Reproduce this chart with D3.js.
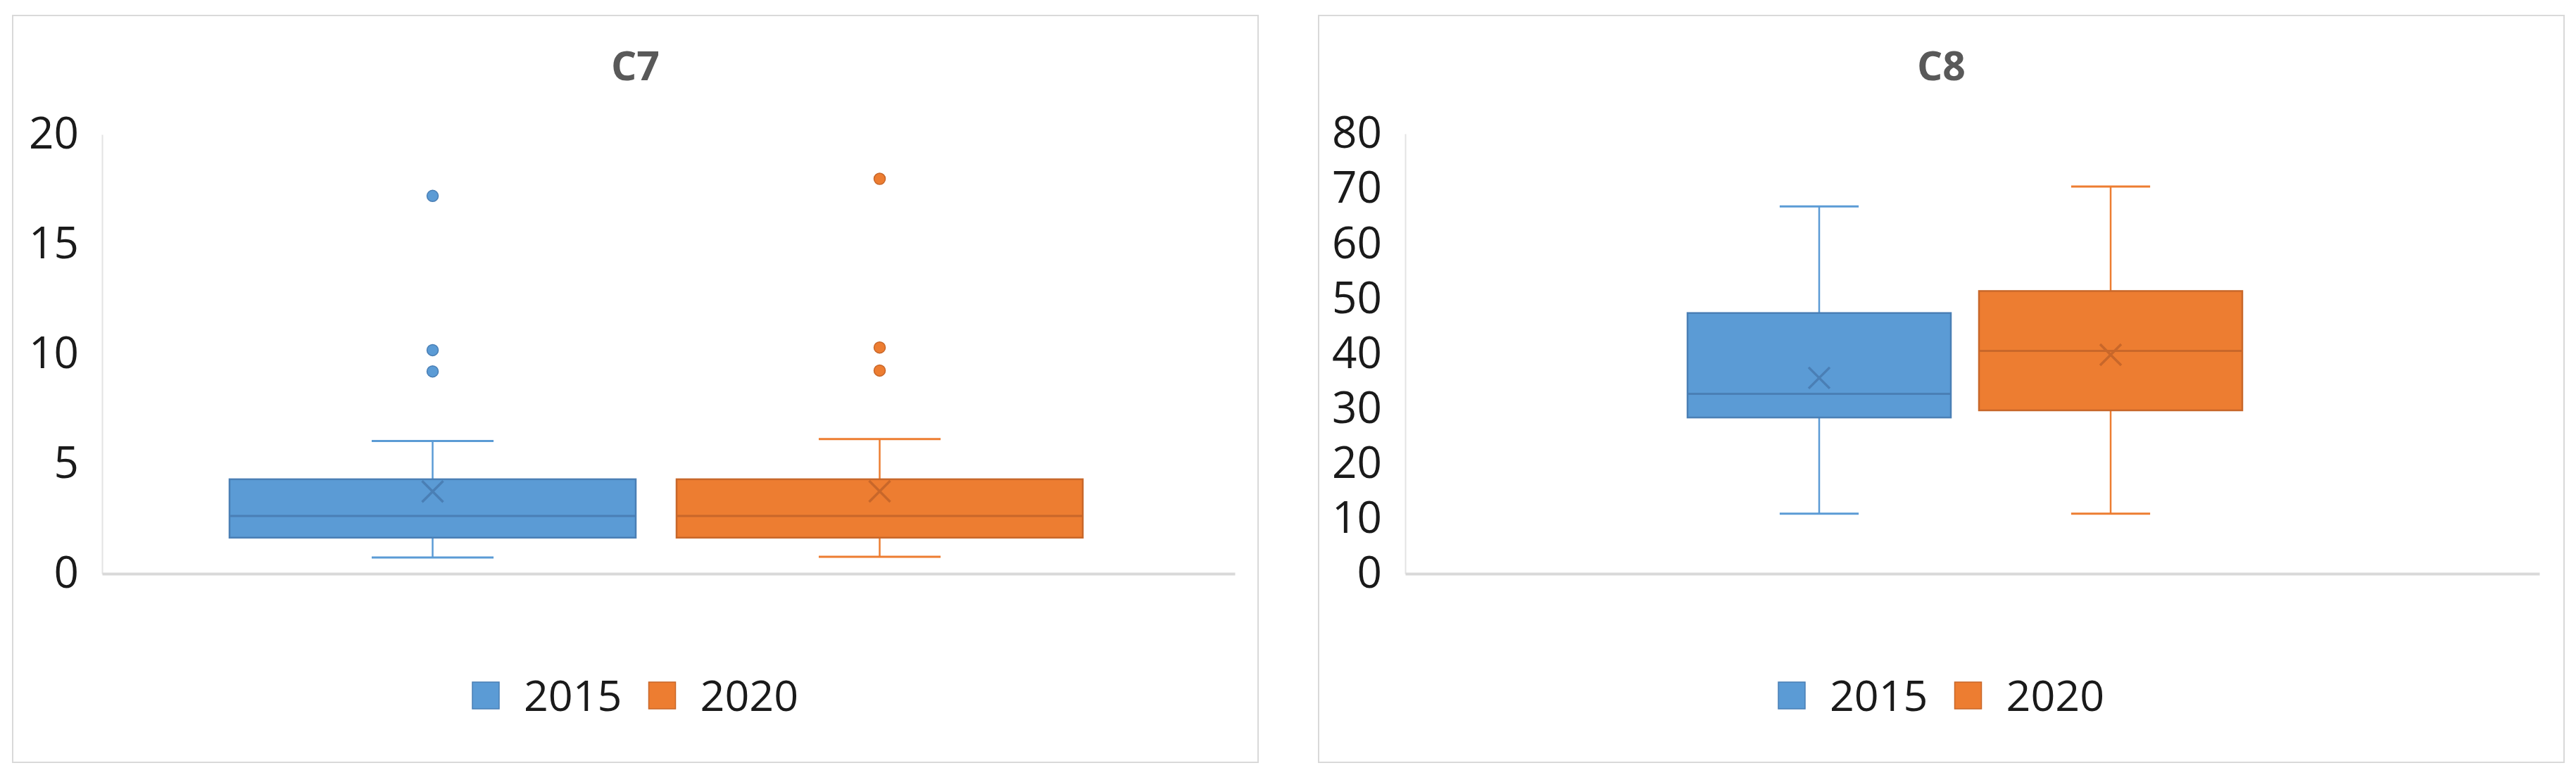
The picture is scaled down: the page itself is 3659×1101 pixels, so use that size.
<!DOCTYPE html>
<html>
<head>
<meta charset="utf-8">
<script src="https://cdn.jsdelivr.net/npm/d3@7"></script>
<style>
  html, body { margin: 0; padding: 0; background: #ffffff; }
  svg { display: block; }
</style>
</head>
<body>
<svg id="chart" width="3659" height="1101"></svg>
<script>
// ---------------- DATA ----------------
const seriesNames = ["2015", "2020"];
const seriesColors = ["#5b9bd5", "#ed7d31"];
const seriesDark = ["#4a7fb5", "#c8672a"];

const c7Title = "C7";
const c7Ticks = [0, 5, 10, 15, 20];
const c7Min = [0.74, 0.77];
const c7Q1 = [1.64, 1.64];
const c7Median = [2.63, 2.63];
const c7Q3 = [4.30, 4.30];
const c7Max = [6.04, 6.13];
const c7Mean = [3.74, 3.75];
const c7Outliers = [[17.2, 10.18, 9.21], [17.98, 10.3, 9.25]];

const c8Title = "C8";
const c8Ticks = [0, 10, 20, 30, 40, 50, 60, 70, 80];
const c8Min = [10.9, 10.9];
const c8Q1 = [28.4, 29.7];
const c8Median = [32.7, 40.5];
const c8Q3 = [47.4, 51.4];
const c8Max = [66.8, 70.4];
const c8Mean = [35.6, 39.8];
const c8Outliers = [[], []];

// ---------------- LAYOUT ----------------
const panels = [
  { title: c7Title, ticks: c7Ticks, min: c7Min, q1: c7Q1, med: c7Median, q3: c7Q3, max: c7Max, mean: c7Mean, out: c7Outliers,
    box: [18, 22, 1787, 1083], plot: [145, 191, 1754, 815], boxRange: [326, 1538], pad: 0.0913 },
  { title: c8Title, ticks: c8Ticks, min: c8Min, q1: c8Q1, med: c8Median, q3: c8Q3, max: c8Max, mean: c8Mean, out: c8Outliers,
    box: [1873, 22, 3642, 1083], plot: [1996, 190, 3607, 815], boxRange: [2397, 3185], pad: 0.0966 }
];

const FONT = "'Open Sans', 'Noto Sans', sans-serif";
const svg = d3.select("#chart");

panels.forEach(p => {
  const g = svg.append("g");
  const [bx0, by0, bx1, by1] = p.box;
  g.append("rect")
    .attr("x", bx0).attr("y", by0)
    .attr("width", bx1 - bx0).attr("height", by1 - by0)
    .attr("fill", "#ffffff").attr("stroke", "#d9d9d9").attr("stroke-width", 2);

  const [px0, py0, px1, py1] = p.plot;
  const y = d3.scaleLinear()
    .domain([p.ticks[0], p.ticks[p.ticks.length - 1]])
    .range([py1, py0]);
  const x = d3.scaleBand()
    .domain(seriesNames)
    .range(p.boxRange)
    .paddingInner(p.pad)
    .paddingOuter(0);

  // title
  g.append("text")
    .attr("x", (bx0 + bx1) / 2).attr("y", 114)
    .attr("text-anchor", "middle")
    .attr("font-family", FONT).attr("font-weight", 700)
    .attr("font-size", 57).attr("fill", "#595959")
    .text(p.title);

  // y axis
  const yAxis = d3.axisLeft(y).tickValues(p.ticks).tickSize(0).tickPadding(33).tickFormat(d3.format("d"));
  const ya = g.append("g").attr("transform", `translate(${px0},0)`).call(yAxis);
  ya.select(".domain").attr("stroke", "#e3e3e3").attr("stroke-width", 2);
  ya.selectAll(".tick text")
    .attr("font-family", FONT).attr("font-size", 62).attr("fill", "#1a1a1a");

  // x axis line
  const xa = d3.axisBottom(d3.scaleLinear().domain([0, 1]).range([px0, px1])).tickValues([]).tickSizeOuter(0);
  g.append("g").attr("transform", `translate(0,${y(0)})`).call(xa)
    .select(".domain").attr("stroke", "#d9d9d9").attr("stroke-width", 4);

  // boxes
  seriesNames.forEach((s, i) => {
    const bw = x.bandwidth();
    const x0 = x(s);
    const cx = x0 + bw / 2;
    const capW = bw * 0.3;
    const col = seriesColors[i], dark = seriesDark[i];

    // whiskers
    g.append("line").attr("x1", cx).attr("x2", cx).attr("y1", y(p.max[i])).attr("y2", y(p.q3[i]))
      .attr("stroke", col).attr("stroke-width", 2.5);
    g.append("line").attr("x1", cx).attr("x2", cx).attr("y1", y(p.q1[i])).attr("y2", y(p.min[i]))
      .attr("stroke", col).attr("stroke-width", 2.5);
    g.append("line").attr("x1", cx - capW / 2).attr("x2", cx + capW / 2).attr("y1", y(p.max[i])).attr("y2", y(p.max[i]))
      .attr("stroke", col).attr("stroke-width", 3);
    g.append("line").attr("x1", cx - capW / 2).attr("x2", cx + capW / 2).attr("y1", y(p.min[i])).attr("y2", y(p.min[i]))
      .attr("stroke", col).attr("stroke-width", 3);

    // box
    g.append("rect")
      .attr("x", x0).attr("y", y(p.q3[i]))
      .attr("width", bw).attr("height", y(p.q1[i]) - y(p.q3[i]))
      .attr("fill", col).attr("stroke", dark).attr("stroke-width", 2.5);
    // median
    g.append("line").attr("x1", x0).attr("x2", x0 + bw).attr("y1", y(p.med[i])).attr("y2", y(p.med[i]))
      .attr("stroke", dark).attr("stroke-width", 3);
    // mean X
    const m = 15, my = y(p.mean[i]);
    g.append("path")
      .attr("d", `M${cx - m},${my - m}L${cx + m},${my + m}M${cx - m},${my + m}L${cx + m},${my - m}`)
      .attr("stroke", dark).attr("stroke-width", 3.5).attr("fill", "none");
    // outliers
    g.selectAll(null).data(p.out[i]).enter().append("circle")
      .attr("cx", cx).attr("cy", d => y(d)).attr("r", 8)
      .attr("fill", col).attr("stroke", dark).attr("stroke-width", 1.5);
  });

  // legend
  const lg = g.append("g");
  let cur = 0;
  const sw = 38, gapText = 35, gapItem = 38;
  seriesNames.forEach((s, i) => {
    lg.append("rect").attr("x", cur).attr("y", 969).attr("width", sw).attr("height", sw)
      .attr("fill", seriesColors[i]).attr("stroke", seriesDark[i]).attr("stroke-width", 1.5);
    const t = lg.append("text").attr("x", cur + sw + gapText).attr("y", 1010)
      .attr("font-family", FONT).attr("font-size", 61).attr("fill", "#1a1a1a").text(s);
    cur += sw + gapText + t.node().getComputedTextLength() + gapItem;
  });
  const totalW = cur - gapItem;
  lg.attr("transform", `translate(${(bx0 + bx1) / 2 - totalW / 2},0)`);
});
</script>
</body>
</html>
